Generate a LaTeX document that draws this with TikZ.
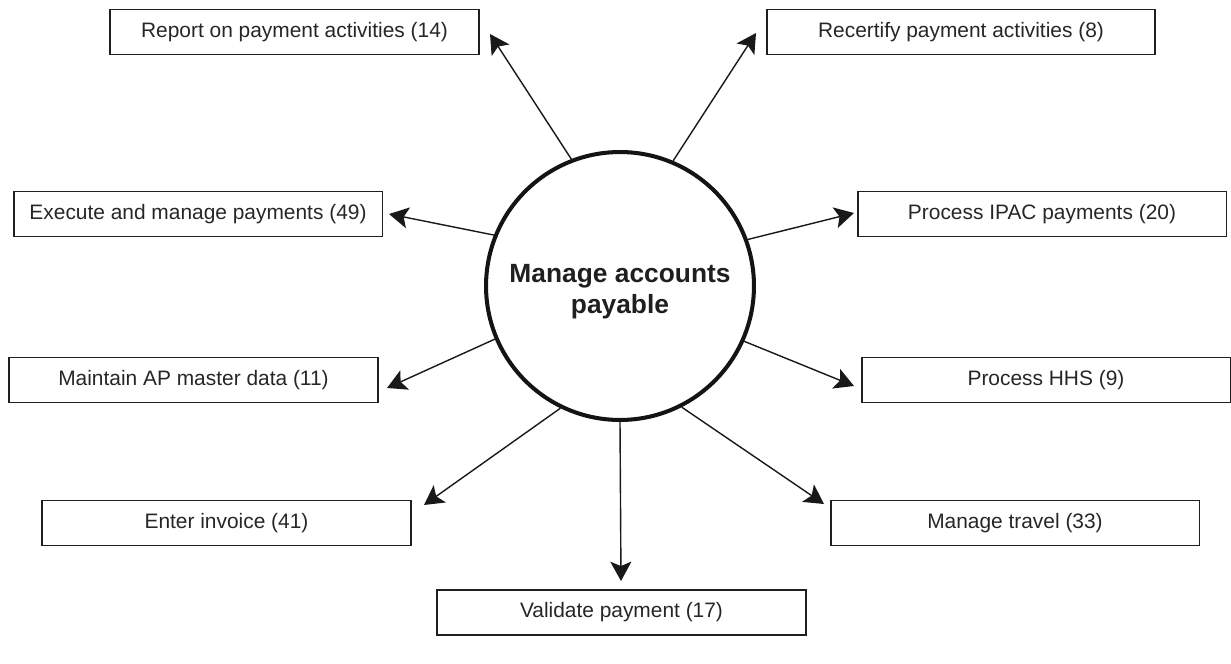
\documentclass[tikz,border=0pt]{standalone}
\usepackage{fontspec}
\setmainfont{Liberation Sans}
\usetikzlibrary{arrows.meta}

\tikzset{
  taskbox/.style={draw=black!88, line width=1.1pt, minimum width=7.38cm, minimum height=0.9cm,
    inner sep=0pt, text=black!85, font=\fontsize{11.9}{14}\selectfont},
  hubnode/.style={circle, draw=black!92, line width=2.3pt, minimum size=5.36cm, inner sep=0pt},
  hubtext/.style={align=center, inner sep=0pt, text=black!88, font=\fontsize{15}{17.6}\selectfont\bfseries},
  flow/.style={draw=black!90, line width=0.8pt, -{Stealth[length=11pt,width=12pt,inset=2.5pt]}}
}

\begin{document}
\begin{tikzpicture}[x=0.02cm, y=-0.02cm]
\useasboundingbox (0,0) rectangle (1231,663);

% centre
\node[hubnode] (hub) at (620,286) {};
\node[hubtext] (hubLabel) at (620,292) {Manage accounts\\payable};

% activities
\node[taskbox] (rep) at (294.5,32) {Report on payment activities (14)};
\node[taskbox, minimum width=7.76cm] (rec) at (961,32) {Recertify payment activities (8)};
\node[taskbox] (exe) at (198,214) {Execute and manage payments (49)};
\node[taskbox] (ipac) at (1042,214) {Process IPAC payments (20)};
\node[taskbox] (mnt) at (193.5,380) {Maintain AP master data (11)};
\node[taskbox] (hhs) at (1046,380) {Process HHS (9)};
\node[taskbox] (inv) at (226.5,523) {Enter invoice (41)};
\node[taskbox] (trv) at (1015,523) {Manage travel (33)};
\node[taskbox] (val) at (621.5,612.5) {Validate payment (17)};

% arrow ends
\coordinate (repTip) at (490,34);
\coordinate (recTip) at (756,33);
\coordinate (exeTip) at (389,214);
\coordinate (ipacTip) at (854,213);
\coordinate (mntTip) at (387,388);
\coordinate (hhsTip) at (854,386);
\coordinate (invTip) at (424,505);
\coordinate (trvTip) at (824,504);
\coordinate (valTip) at (621,581);

\foreach \a/\t in {111/repTip, 67.5/recTip, 158.6/exeTip, 20.6/ipacTip, 203.4/mntTip,
                   336.8/hhsTip, 244.4/invTip, 297.9/trvTip, 270/valTip}
    \draw[flow] (hub.\a) -- (\t);

\end{tikzpicture}
\end{document}
